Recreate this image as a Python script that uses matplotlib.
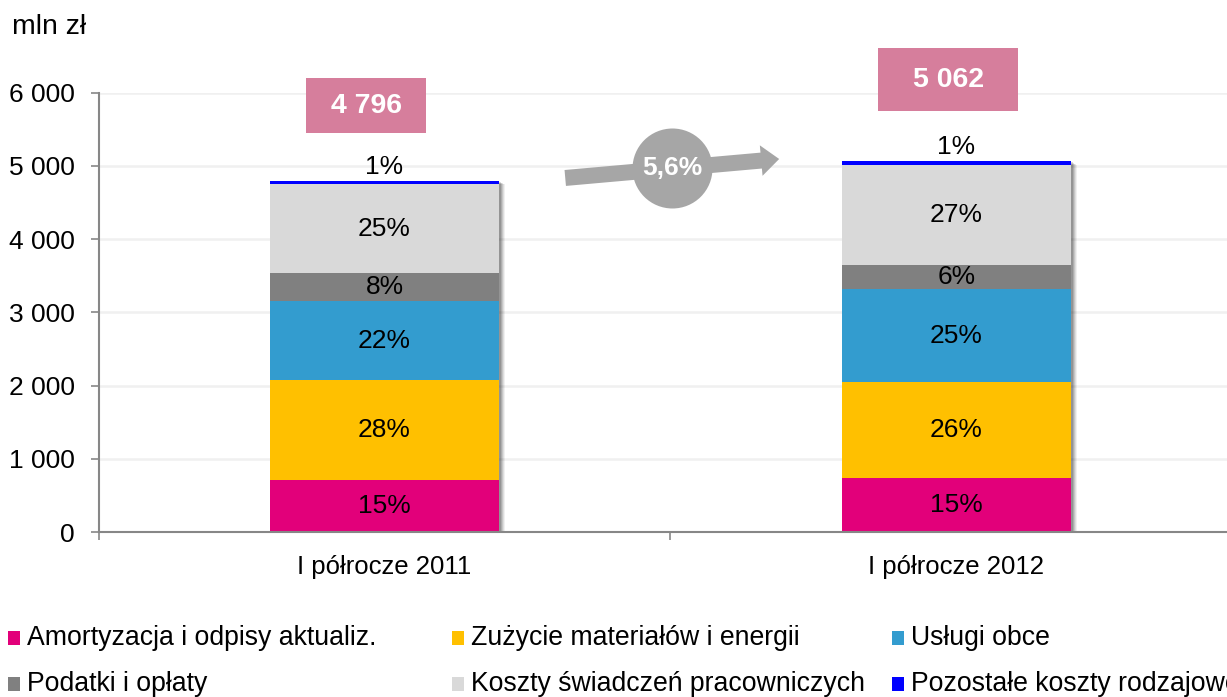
import matplotlib
matplotlib.use('Agg')
import matplotlib.pyplot as plt
import matplotlib.transforms as mtransforms
from matplotlib.patches import Rectangle
import numpy as np

plt.rcParams['font.family'] = ['Liberation Sans', 'DejaVu Sans']

# data (mln zl)
periods = ['I półrocze 2011', 'I półrocze 2012']
categories = ['Amortyzacja i odpisy aktualiz.', 'Zużycie materiałów i energii', 'Usługi obce',
              'Podatki i opłaty', 'Koszty świadczeń pracowniczych', 'Pozostałe koszty rodzajowe']
values_2011 = [713, 1365, 1077, 378, 1219, 44]
values_2012 = [745, 1301, 1277, 324, 1368, 47]
totals = [4796, 5062]
growth_label = '5,6%'
yticks = [0, 1000, 2000, 3000, 4000, 5000, 6000]

colors = ['#E2007A', '#FFC000', '#339CCF', '#808080', '#D9D9D9', '#0000FF']

fig = plt.figure(figsize=(12.27, 6.97), dpi=100)
ax = fig.add_axes([98.5 / 1227, 164.7 / 697, 1144 / 1227, 439.8 / 697])

x = np.arange(len(periods))
width = 0.40
data = np.array([values_2011, values_2012])

# soft shadow behind bars
for i, (dx, a) in enumerate([(6, 0.06), (5, 0.08), (4, 0.10), (3, 0.12), (2, 0.14)]):
    tr = mtransforms.offset_copy(ax.transData, fig=fig, x=dx, y=-dx * 0.6, units='dots')
    ax.bar(x, totals, width, color='black', alpha=a, transform=tr, zorder=1, linewidth=0)

bottom = np.zeros(len(periods))
for j, cat in enumerate(categories):
    vals = data[:, j]
    ax.bar(x, vals, width, bottom=bottom, color=colors[j], zorder=2, linewidth=0)
    for i in range(len(periods)):
        pct = '%d%%' % round(vals[i] / totals[i] * 100)
        if j == len(categories) - 1:
            ax.annotate(pct, (x[i], bottom[i] + vals[i]), xytext=(0, 1.5), textcoords='offset points',
                        ha='center', va='bottom', fontsize=19, zorder=4)
        else:
            ax.text(x[i], bottom[i] + vals[i] / 2, pct, ha='center', va='center',
                    fontsize=19, zorder=4)
    bottom += vals

# total boxes
box_geom = [(-0.137, 0.210, 5447, 751), (0.863, 0.245, 5746, 861)]
for i, (bx, bw, by, bh) in enumerate(box_geom):
    ax.add_patch(Rectangle((bx, by), bw, bh, facecolor='#D67E9C', edgecolor='none',
                           clip_on=False, zorder=5))
    ax.text(bx + bw / 2, by + bh / 2, '{:,}'.format(totals[i]).replace(',', ' '),
            ha='center', va='center', color='white', fontsize=20.5, fontweight='bold',
            zorder=6, clip_on=False)

# growth arrow
ax.annotate('', xy=(0.690, 5093), xytext=(0.316, 4834),
            arrowprops=dict(arrowstyle='simple,head_width=2.2,head_length=1.3,tail_width=1.15',
                            color='#A6A6A6', shrinkA=0, shrinkB=0, linewidth=0), zorder=5)
ax.scatter([0.503], [4970], s=3318, color='#A6A6A6', zorder=6, linewidths=0)
ax.text(0.503, 4970, growth_label, ha='center', va='center', color='white', fontsize=19,
        fontweight='bold', zorder=7)

# axes style
ax.set_xlim(-0.5, 1.5)
ax.set_ylim(0, 6000)
ax.set_yticks(yticks)
ax.set_yticklabels(['{:,}'.format(v).replace(',', ' ') for v in yticks], fontsize=19)
ax.set_xticks(x)
ax.set_xticklabels(periods, fontsize=18.5)
ax.set_xticks([-0.5, 0.5, 1.5], minor=True)
ax.tick_params(axis='x', which='major', length=0, pad=16)
ax.tick_params(axis='x', which='minor', length=6, color='#878787', width=1.2)
ax.tick_params(axis='y', length=6, color='#878787', width=1.2, pad=11)
ax.yaxis.grid(True, color='#F0F0F0', linewidth=1.8, zorder=0)
ax.set_axisbelow(True)
for s in ['top', 'right']:
    ax.spines[s].set_visible(False)
for s in ['left', 'bottom']:
    ax.spines[s].set_color('#878787')
    ax.spines[s].set_linewidth(1.5)

fig.text(12 / 1227, 1 - 27 / 697, 'mln zł', fontsize=20.5, va='center', ha='left')

# legend (manual, 3 columns)
leg_x = [8, 452, 892]
leg_y = [638, 684]
for k, cat in enumerate(categories):
    col, row = k % 3, k // 3
    px, py = leg_x[col], leg_y[row]
    fig.patches.append(Rectangle((px / 1227, 1 - (py + 7) / 697), 12 / 1227, 14 / 697,
                                 transform=fig.transFigure, facecolor=colors[k],
                                 edgecolor='none'))
    fig.text((px + 19) / 1227, 1 - py / 697, cat, fontsize=19.2, va='center', ha='left')

plt.savefig('out.png', dpi=100)
